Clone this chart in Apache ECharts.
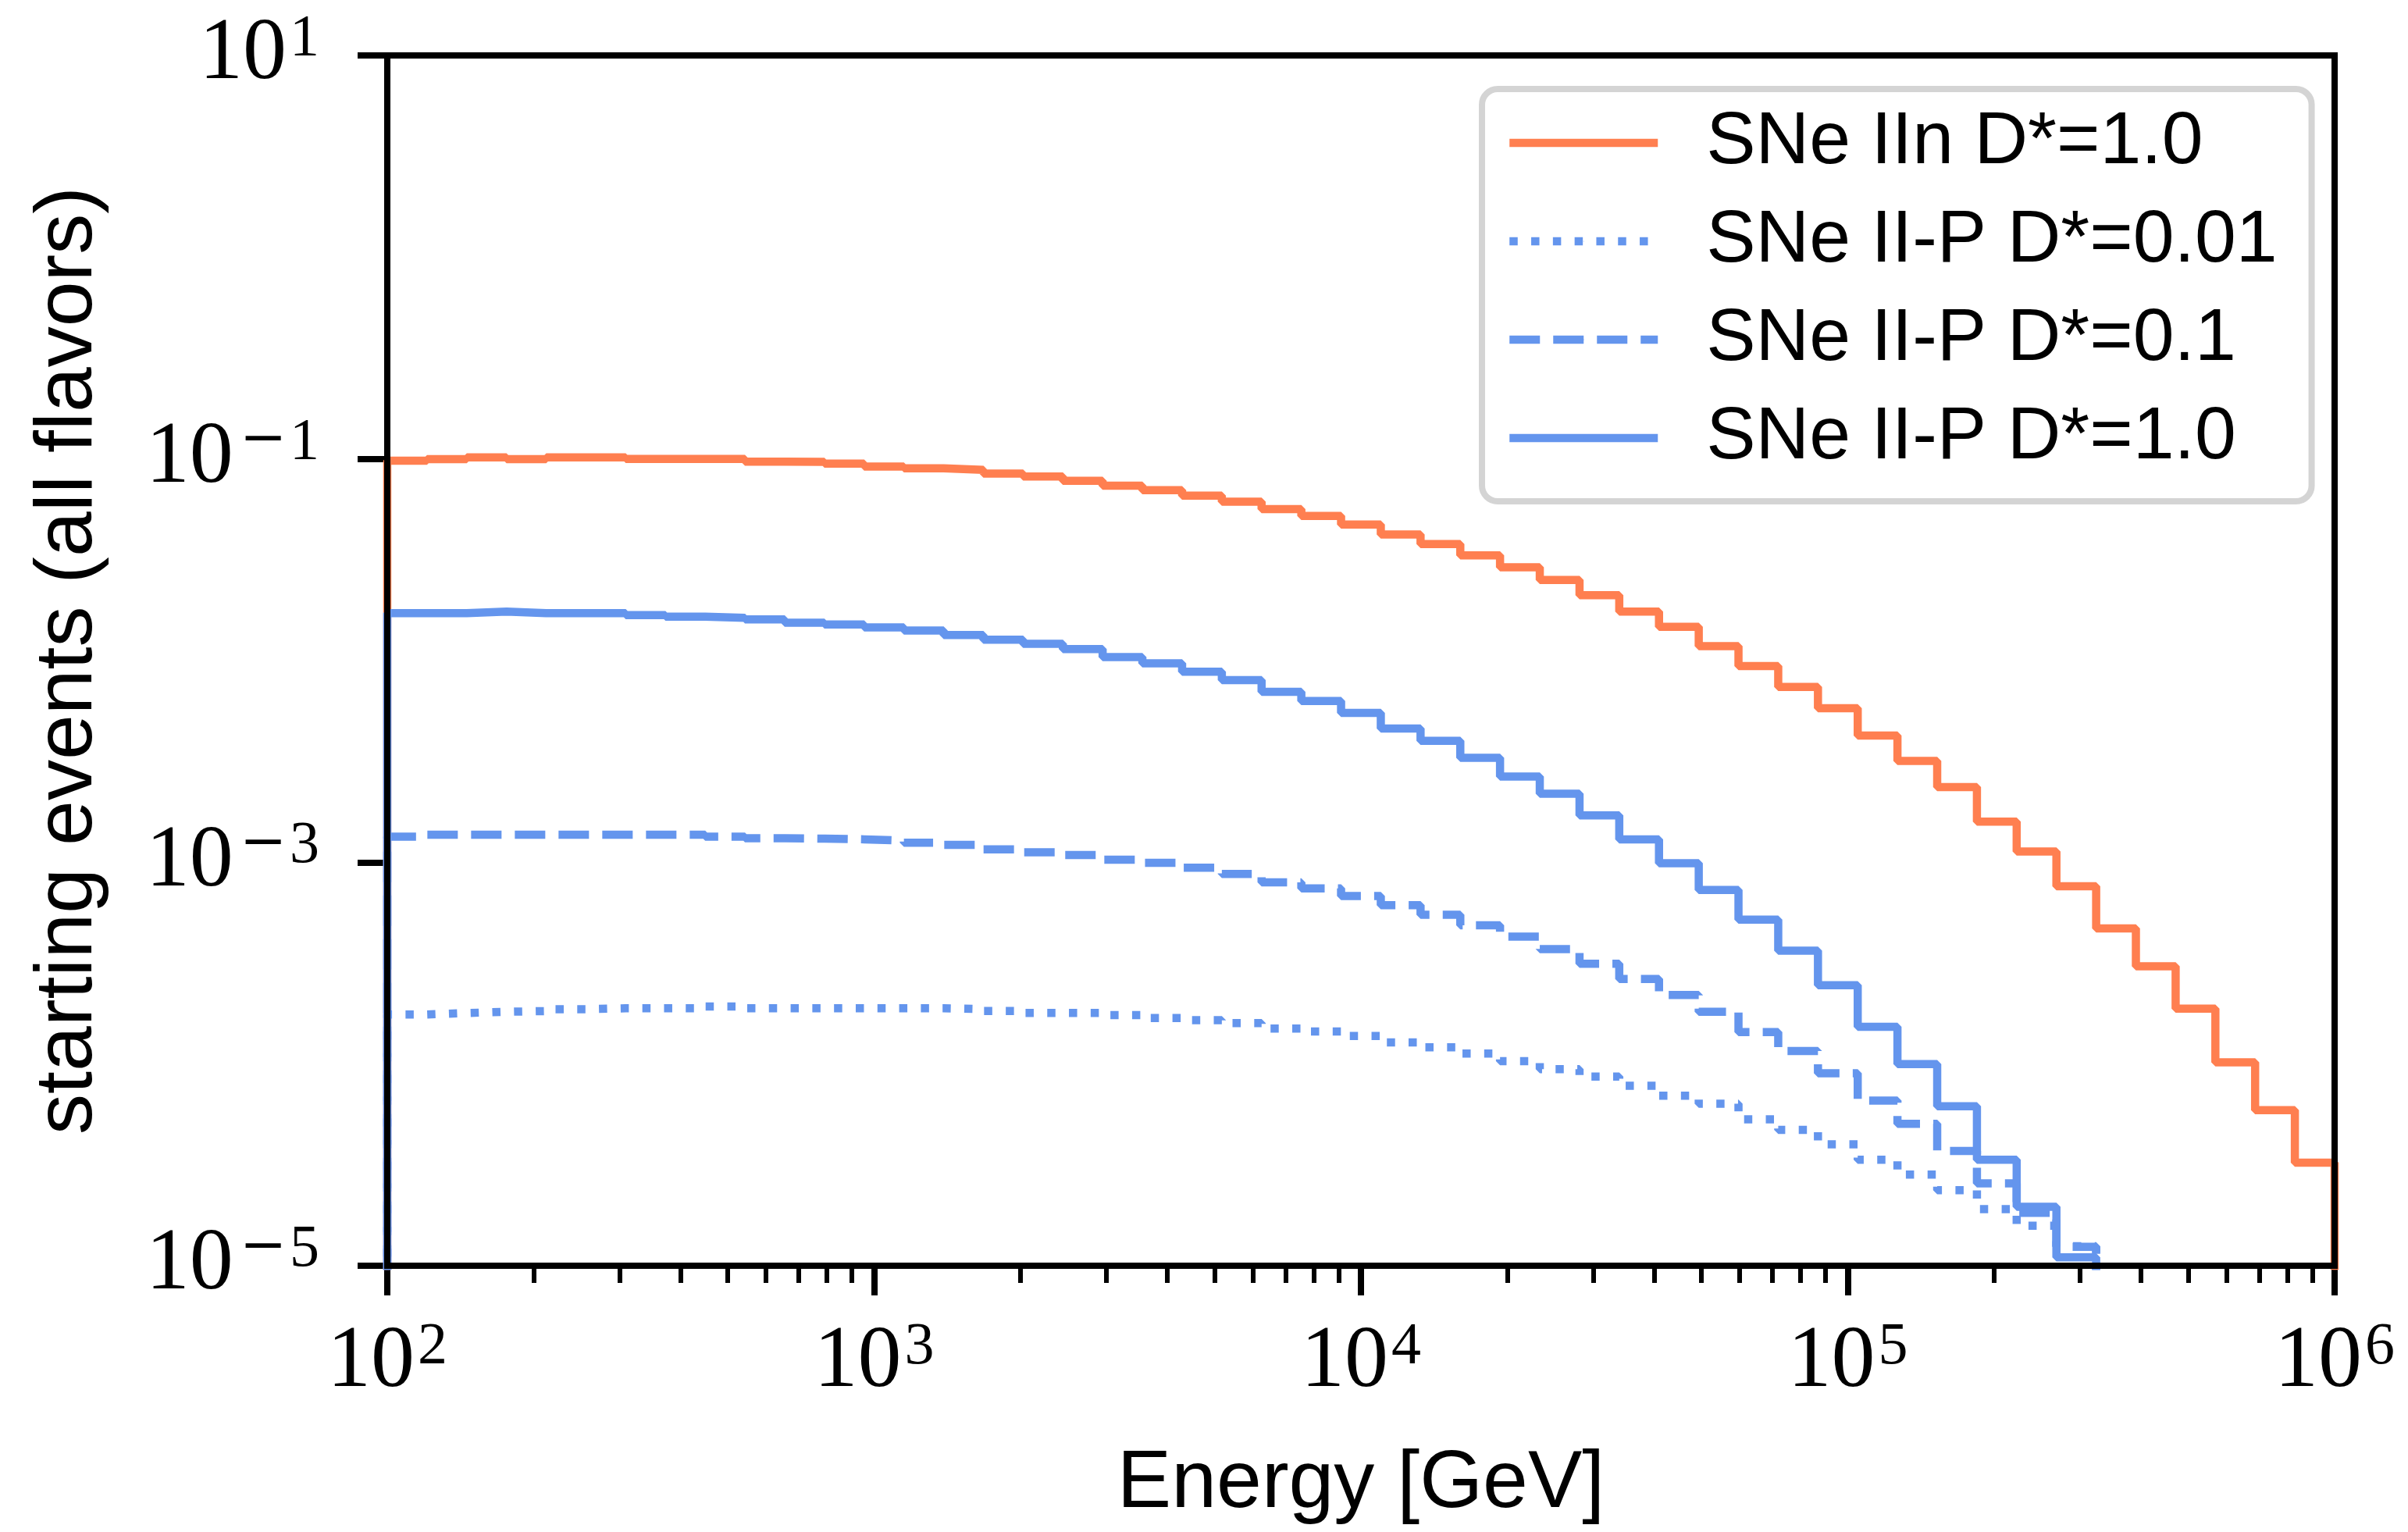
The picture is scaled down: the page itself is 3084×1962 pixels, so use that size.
<!DOCTYPE html>
<html>
<head>
<meta charset="utf-8">
<title>starting events (all flavors)</title>
<script src="https://cdn.jsdelivr.net/npm/echarts@6.0.0/dist/echarts.min.js"></script>
<style>
    html, body { margin: 0; padding: 0; background: #fff; }
    #line-chart { width: 3084px; height: 1962px; }
</style>
</head>
<body>
<div id="line-chart"></div>
<script>
// energy bin edges [GeV]: 49 log bins between 1e2 and 1e6
var binEdges = [100, 120.67, 145.63, 175.75, 212.09, 255.95, 308.88, 372.76, 449.84, 542.87,
    655.13, 790.60, 954.09, 1151.4, 1389.5, 1676.8, 2023.6, 2442.1, 2947.1, 3556.5,
    4292.0, 5179.5, 6250.6, 7543.1, 9103.0, 10985, 13257, 15999, 19307, 23300,
    28118, 33932, 40949, 49417, 59636, 71969, 86851, 104811, 126486, 152642,
    184207, 222300, 268270, 323746, 390694, 471487, 568987, 686649, 828643, 1000000];

// counts per bin (0 = below the visible range)
var sneIIn10 = [0.098, 0.0998, 0.1018, 0.0998, 0.1018, 0.1018, 0.1000, 0.1000, 0.1000, 0.0968,
    0.0966, 0.0947, 0.0916, 0.0897, 0.0882, 0.0846, 0.0818, 0.0778, 0.0737, 0.0700,
    0.0658, 0.0614, 0.0564, 0.0521, 0.0473, 0.0422, 0.0378, 0.0332, 0.0290, 0.0251,
    0.0211, 0.0175, 0.0147, 0.0118, 0.0094, 0.0074, 0.0058, 0.00425, 0.00318, 0.00236,
    0.00159, 0.00113, 0.00076, 0.00047, 0.000305, 0.000188, 0.000102, 0.000059, 0.0000324];

var sneIIP001 = [1.76e-4, 1.79e-4, 1.815e-4, 1.83e-4, 1.87e-4, 1.89e-4, 1.89e-4, 1.89e-4, 1.93e-4, 1.89e-4,
    1.89e-4, 1.89e-4, 1.89e-4, 1.89e-4, 1.87e-4, 1.83e-4, 1.79e-4, 1.79e-4, 1.75e-4, 1.69e-4,
    1.65e-4, 1.595e-4, 1.50e-4, 1.45e-4, 1.376e-4, 1.28e-4, 1.21e-4, 1.126e-4, 1.033e-4, 0.944e-4,
    0.866e-4, 0.78e-4, 0.697e-4, 0.636e-4, 0.532e-4, 0.472e-4, 0.40e-4, 0.335e-4, 0.283e-4, 0.237e-4,
    0.191e-4, 0.158e-4, 0.125e-4, 0, 0, 0, 0, 0, 0];

var sneIIP01 = [1.34e-3, 1.37e-3, 1.37e-3, 1.37e-3, 1.37e-3, 1.37e-3, 1.37e-3, 1.37e-3, 1.34e-3, 1.315e-3,
    1.31e-3, 1.30e-3, 1.28e-3, 1.25e-3, 1.22e-3, 1.16e-3, 1.12e-3, 1.086e-3, 1.03e-3, 0.995e-3,
    0.94e-3, 0.876e-3, 0.796e-3, 0.742e-3, 0.681e-3, 0.613e-3, 0.549e-3, 0.487e-3, 0.428e-3, 0.371e-3,
    0.314e-3, 0.264e-3, 0.220e-3, 0.1815e-3, 0.144e-3, 0.116e-3, 0.090e-3, 0.0659e-3, 0.0505e-3, 0.0371e-3,
    0.0256e-3, 0.0183e-3, 0.0124e-3, 0, 0, 0, 0, 0, 0];

var sneIIP10 = [0.0172, 0.0172, 0.0175, 0.0172, 0.0172, 0.0172, 0.0168, 0.0165, 0.0163, 0.0160,
    0.0154, 0.0151, 0.0146, 0.0141, 0.0134, 0.0127, 0.0121, 0.0114, 0.0104, 0.0097,
    0.0088, 0.0080, 0.0070, 0.0063, 0.0055, 0.0046, 0.0040, 0.0033, 0.00266, 0.00219,
    0.00171, 0.00130, 0.00099, 0.00073, 0.00052, 0.000365, 0.000246, 0.000153, 0.000100, 0.0000617,
    0.0000335, 0.0000196, 0.0000110, 0, 0, 0, 0, 0, 0];

var seriesNames = ['SNe IIn D*=1.0', 'SNe II-P D*=0.01', 'SNe II-P D*=0.1', 'SNe II-P D*=1.0'];

// tick labels are powers of ten
var xTickExps = [2, 3, 4, 5, 6];
var yTickExps = [-5, -3, -1, 1];
var minorMantissas = [2, 3, 4, 5, 6, 7, 8, 9];

var floorValue = 1e-7;
var coral = '#ff7f50',
    cornflower = '#6495ed';

// histtype='step' outline: up from the floor at the first edge, down at the last
var stepData = function (values) {
    var last = binEdges.length - 1,
        pts = [[binEdges[0], floorValue]];
    for (var i = 0; i < values.length; i++) {
        pts.push([binEdges[i], values[i] > 0 ? values[i] : floorValue]);
    }
    pts.push([binEdges[last], values[values.length - 1] > 0 ? values[values.length - 1] : floorValue]);
    pts.push([binEdges[last], floorValue]);
    return pts;
};

var minorExps = [];
for (var d = xTickExps[0]; d < xTickExps[xTickExps.length - 1]; d++) {
    minorMantissas.forEach(function (m) { minorExps.push(d + Math.log10(m)); });
}

var powerLabel = function (value) {
    var e = Math.round(value);
    return '{base|10}' + (e < 0 ? '{minus|\u2212}' : '') + '{sup|' + Math.abs(e) + '}';
};

var labelRich = {
    base: { fontFamily: 'Liberation Serif', fontSize: 112, lineHeight: 116, color: '#000', verticalAlign: 'middle' },
    minus: { fontFamily: 'DejaVu Serif', fontSize: 72, lineHeight: 60, color: '#000', verticalAlign: 'top', padding: [0, 0, 0, 8] },
    sup: { fontFamily: 'Liberation Serif', fontSize: 76, lineHeight: 60, color: '#000', verticalAlign: 'top', padding: [0, 0, 0, 4] }
};

var makeSeries = function (name, values, color, dash) {
    return {
        name: name,
        type: 'line',
        step: 'end',
        xAxisIndex: 0,
        yAxisIndex: 0,
        data: stepData(values),
        symbol: 'none',
        clip: true,
        silent: true,
        itemStyle: { color: color },
        lineStyle: { color: color, width: 10.5, type: dash },
        emphasis: { disabled: true }
    };
};

var lineOption = {
    animation: false,
    backgroundColor: '#fff',
    grid: {
        show: true,
        z: 10,
        left: 496,
        right: 94,
        top: 71,
        bottom: 341,
        containLabel: false,
        backgroundColor: 'transparent',
        borderColor: '#000',
        borderWidth: 8
    },
    legend: {
        orient: 'vertical',
        left: 1898,
        top: 114,
        padding: [19, 44, 31, 30],
        itemGap: 26,
        itemWidth: 190,
        itemHeight: 1,
        selectedMode: false,
        backgroundColor: '#fff',
        borderColor: '#d4d4d4',
        borderWidth: 8,
        borderRadius: 20,
        data: seriesNames,
        lineStyle: { width: 10.5 },
        textStyle: {
            fontFamily: 'Liberation Sans',
            fontSize: 95,
            lineHeight: 100,
            color: '#000',
            padding: [0, 0, 0, 57]
        }
    },
    xAxis: [{
        type: 'log',
        logBase: 10,
        min: 100,
        max: 1e6,
        show: false
    }, {
        type: 'value',
        position: 'bottom',
        min: xTickExps[0],
        max: xTickExps[xTickExps.length - 1],
        interval: 1,
        name: 'Energy [GeV]',
        nameLocation: 'middle',
        nameGap: 228,
        nameTextStyle: { fontFamily: 'Liberation Sans', fontSize: 104, lineHeight: 104, color: '#000' },
        axisLine: { show: false, onZero: false },
        axisTick: { show: true, inside: false, length: 38, lineStyle: { color: '#000', width: 8 } },
        axisLabel: {
            show: true, margin: 67, showMinLabel: true, showMaxLabel: true, hideOverlap: false,
            fontFamily: 'Liberation Serif', fontSize: 112, lineHeight: 116, color: '#000',
            formatter: powerLabel, rich: labelRich
        },
        splitLine: { show: false }
    }, {
        type: 'value',
        position: 'bottom',
        min: xTickExps[0],
        max: xTickExps[xTickExps.length - 1],
        axisLine: { show: false, onZero: false },
        axisTick: { show: true, inside: false, length: 22, customValues: minorExps, lineStyle: { color: '#000', width: 6 } },
        axisLabel: { show: false },
        splitLine: { show: false }
    }],
    yAxis: [{
        type: 'log',
        logBase: 10,
        min: 1e-5,
        max: 10,
        show: false
    }, {
        type: 'value',
        position: 'left',
        min: yTickExps[0],
        max: yTickExps[yTickExps.length - 1],
        interval: 2,
        name: 'starting events (all flavors)',
        nameLocation: 'middle',
        nameGap: 356,
        nameTextStyle: { fontFamily: 'Liberation Sans', fontSize: 104, lineHeight: 104, color: '#000' },
        axisLine: { show: false, onZero: false },
        axisTick: { show: true, inside: false, length: 38, lineStyle: { color: '#000', width: 8 } },
        axisLabel: {
            show: true, margin: 87, showMinLabel: true, showMaxLabel: true, hideOverlap: false,
            fontFamily: 'Liberation Serif', fontSize: 112, lineHeight: 116, color: '#000',
            formatter: powerLabel, rich: labelRich
        },
        splitLine: { show: false }
    }],
    series: [
        makeSeries(seriesNames[0], sneIIn10, coral, 'solid'),
        makeSeries(seriesNames[1], sneIIP001, cornflower, [10.5, 17.3]),
        makeSeries(seriesNames[2], sneIIP01, cornflower, [39, 17]),
        makeSeries(seriesNames[3], sneIIP10, cornflower, 'solid')
    ]
};

var lineChart = echarts.init(document.getElementById('line-chart'));
lineChart.setOption(lineOption);
</script>
</body>
</html>
